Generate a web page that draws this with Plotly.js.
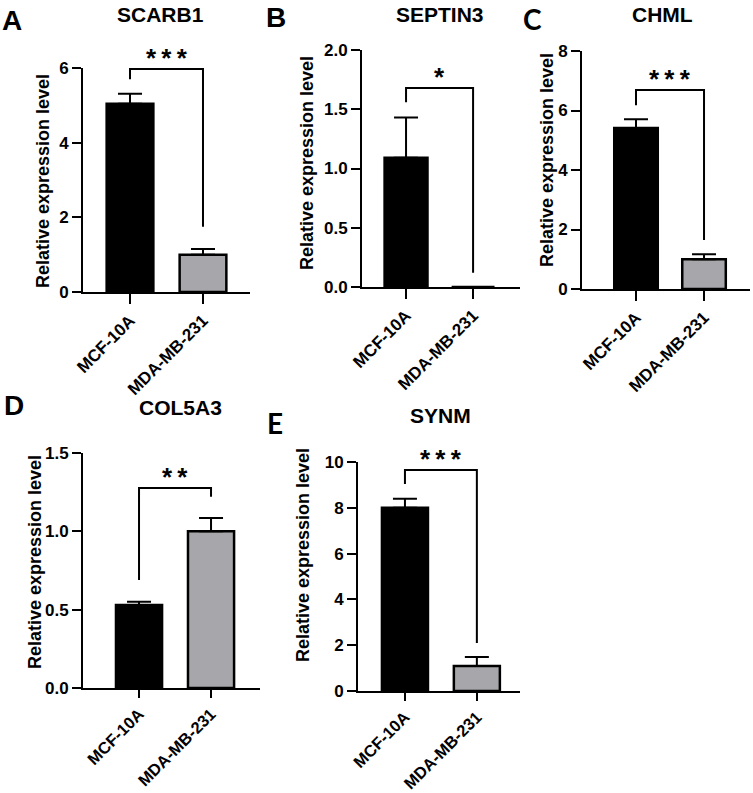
<!DOCTYPE html>
<html>
<head>
<meta charset="utf-8">
<script src="https://cdn.plot.ly/plotly-3.0.1.min.js"></script>
<style>html,body{margin:0;padding:0;background:#fff;}#chart{width:753px;height:793px;}</style>
</head>
<body>
<div id="chart"></div>
<script>
// ---- data ----
const categories = ['MCF-10A', 'MDA-MB-231'];
const panelLetters = ['A', 'B', 'C', 'D', 'E'];
const genes = ['SCARB1', 'SEPTIN3', 'CHML', 'COL5A3', 'SYNM'];
const meanMCF = [5.04, 1.09, 5.41, 0.53, 8.0];
const meanMDA = [1.0, 0.0, 1.0, 1.0, 1.09];
const sdMCF = [0.27, 0.34, 0.30, 0.02, 0.40];
const sdMDA = [0.15, 0.0, 0.17, 0.085, 0.39];
const yMax = [6, 2, 8, 1.5, 10];
const yDtick = [2, 0.5, 2, 0.5, 2];
const yTickFormat = ['d', '.1f', 'd', '.1f', 'd'];
const significance = ['***', '*', '***', '**', '***'];
const bracketTop = [5.97, 1.68, 6.69, 1.276, 9.65];
const bracketLeftEnd = [5.7, 1.56, 6.18, 0.69, 9.04];
const bracketRightEnd = [1.75, 0.12, 1.65, 1.22, 2.1];
const yTitle = 'Relative expression level';

// ---- layout geometry (pixels) ----
const W = 753, H = 793;
const geo = [
  {x0: 83,  x1: 250, yb: 292, yt: 68,  xr: [-0.644, 1.644], tx: 43,  ty: 181, titleX: 160, titleY: 14, letX: 12,  letY: 20, tl: 10, tf: 17},
  {x0: 362, x1: 520, yb: 287, yt: 50,  xr: [-0.657, 1.70],  tx: 307, ty: 163, titleX: 440, titleY: 15, letX: 276, letY: 17, tl: 10, tf: 17},
  {x0: 582, x1: 750, yb: 289, yt: 51,  xr: [-0.794, 1.676], tx: 547, ty: 160, titleX: 662, titleY: 14, letX: 532, letY: 19, tl: 10, tf: 17},
  {x0: 83,  x1: 260, yb: 688, yt: 453, xr: [-0.778, 1.68],  tx: 35,  ty: 562, titleX: 180, titleY: 407, letX: 14, letY: 405, tl: 8, tf: 16.5},
  {x0: 358, x1: 520, yb: 691, yt: 462, xr: [-0.653, 1.60],  tx: 303, ty: 555, titleX: 440, titleY: 415, letX: 275, letY: 423, tl: 8, tf: 16.5}
];
const px = x => x / W;
const py = y => 1 - y / H;

const FONT = 'Arial, "Liberation Sans", sans-serif';
const data = [];
const layout = {
  width: W, height: H,
  margin: {l: 0, r: 0, t: 0, b: 0},
  paper_bgcolor: '#ffffff', plot_bgcolor: 'rgba(0,0,0,0)',
  showlegend: false,
  font: {family: FONT, color: '#000', size: 17, weight: 'bold'},
  annotations: [], shapes: []
};

for (let i = 0; i < genes.length; i++) {
  const g = geo[i];
  const sfx = i === 0 ? '' : String(i + 1);
  const xa = 'x' + sfx, ya = 'y' + sfx;
  data.push({
    type: 'bar', x: categories, y: [meanMCF[i], meanMDA[i]],
    xaxis: xa, yaxis: ya, width: 0.64,
    marker: {color: ['#000000', '#a7a7ab'], line: {color: '#000', width: 2.5}},
    error_y: {type: 'data', symmetric: false, array: [sdMCF[i], sdMDA[i]], arrayminus: [0, 0],
              color: '#000', thickness: 2, width: 12},
    cliponaxis: false, hoverinfo: 'skip'
  });
  layout['xaxis' + sfx] = {
    domain: [px(g.x0), px(g.x1)], anchor: ya, type: 'category', range: g.xr,
    showline: true, linecolor: '#000', linewidth: 2, ticks: 'outside', ticklen: g.tl, tickwidth: 2, tickcolor: '#000',
    tickangle: -45, showgrid: false, zeroline: false,
    tickfont: {family: FONT, size: g.tf, weight: 'bold', color: '#000'}, fixedrange: true
  };
  layout['yaxis' + sfx] = {
    domain: [py(g.yb), py(g.yt)], anchor: xa, range: [0, yMax[i]], dtick: yDtick[i], tick0: 0,
    tickformat: yTickFormat[i],
    showline: true, linecolor: '#000', linewidth: 2, ticks: 'outside', ticklen: 9, tickwidth: 2, tickcolor: '#000',
    showgrid: false, zeroline: false,
    tickfont: {family: FONT, size: 17, weight: 'bold', color: '#000'}, fixedrange: true
  };
  // significance bracket
  layout.shapes.push({
    type: 'path', xref: xa, yref: ya,
    path: `M 0,${bracketLeftEnd[i]} L 0,${bracketTop[i]} L 1,${bracketTop[i]} L 1,${bracketRightEnd[i]}`,
    line: {color: '#000', width: 2}
  });
  layout.annotations.push({
    xref: xa, yref: ya, x: 0.5, y: bracketTop[i], text: significance[i].split('').join('\u2009'),
    showarrow: false, yanchor: 'bottom', yshift: -6,
    font: {family: FONT, size: 26, weight: 'bold', color: '#000'}
  });
  // y title
  layout.annotations.push({
    xref: 'paper', yref: 'paper', x: px(g.tx), y: py(g.ty), text: yTitle, textangle: -90,
    showarrow: false, xanchor: 'center', yanchor: 'middle',
    font: {family: FONT, size: 18, weight: 'bold', color: '#000'}
  });
  // panel title
  layout.annotations.push({
    xref: 'paper', yref: 'paper', x: px(g.titleX), y: py(g.titleY), text: genes[i],
    showarrow: false, xanchor: 'center', yanchor: 'middle',
    font: {family: FONT, size: 21, weight: 'bold', color: '#000'}
  });
  // panel letter
  layout.annotations.push({
    xref: 'paper', yref: 'paper', x: px(g.letX), y: py(g.letY), text: panelLetters[i],
    showarrow: false, xanchor: 'center', yanchor: 'middle',
    font: {family: (i === 2 || i === 4) ? 'Lato, sans-serif' : FONT, size: 28, weight: 'bold', color: '#000'}
  });
}

Plotly.newPlot('chart', data, layout, {staticPlot: true});
</script>
</body>
</html>
